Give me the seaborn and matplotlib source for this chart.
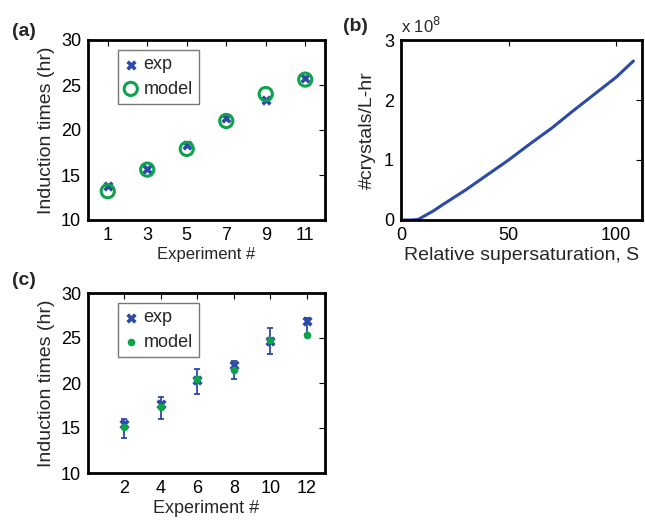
"""Induction time comparison and nucleation rate curve, three-panel figure."""

import matplotlib
matplotlib.use("Agg")
import matplotlib.pyplot as plt
import pandas as pd
import seaborn as sns

# panel (a)
exp_a_x = [1, 3, 5, 7, 9, 11]
exp_a_y = [13.8, 15.7, 18.3, 21.3, 23.3, 25.8]
model_a_y = [13.2, 15.6, 17.9, 21.0, 24.0, 25.6]

# panel (b): nucleation rate vs relative supersaturation
sup_s = [0, 5, 8, 10, 15, 20, 30, 40, 50, 60, 70, 80, 90, 100, 108]
rate_e8 = [0, 0, 0.01, 0.05, 0.15, 0.27, 0.5, 0.75, 1.0, 1.27, 1.53, 1.82, 2.1, 2.38, 2.65]

# panel (c)
exp_c_x = [2, 4, 6, 8, 10, 12]
exp_c_y = [15.4, 17.7, 20.3, 22.0, 24.7, 26.9]
exp_c_lo = [13.9, 16.0, 18.8, 20.4, 23.2, 25.4]
exp_c_hi = [16.0, 18.4, 21.6, 22.5, 26.1, 27.2]
model_c_y = [15.1, 17.3, 20.4, 21.4, 24.8, 25.3]

BLUE = "#2c4aa8"
GREEN = "#0da34a"
W, H = 645, 520


def _style(ax):
    for side in ax.spines.values():
        side.set_visible(True)
        side.set_linewidth(2.0)
        side.set_color("black")
    ax.tick_params(direction="in", length=4, width=0.8, top=True, right=True,
                   labelsize=13, pad=5, colors="black")


def _box(left, top, right, bottom):
    return [left / W, 1 - bottom / H, (right - left) / W, (bottom - top) / H]


def _legend(ax):
    leg = ax.legend(loc="upper left", bbox_to_anchor=(0.127, 0.944), fontsize=13,
                    frameon=True, fancybox=False, handletextpad=0.35,
                    borderpad=0.35, labelspacing=0.4, handlelength=0.7,
                    borderaxespad=0.0)
    leg.get_frame().set_edgecolor("#555555")
    leg.get_frame().set_linewidth(1.0)


def main():
    sns.set_style("white")
    plt.rcParams["font.family"] = ["Liberation Sans", "DejaVu Sans"]
    fig = plt.figure(figsize=(W / 100, H / 100), dpi=100)

    # (a)
    ax_a = fig.add_axes(_box(88, 40, 325, 220))
    frame_a = pd.DataFrame({"exp": exp_a_x, "y": exp_a_y, "model": model_a_y})
    sns.scatterplot(data=frame_a, x="exp", y="y", marker="X", s=55, color=BLUE,
                    linewidth=0, label="exp", ax=ax_a, zorder=3)
    sns.scatterplot(data=frame_a, x="exp", y="model", marker="o", s=90,
                    facecolor="none", edgecolor=GREEN, linewidth=2.2,
                    label="model", ax=ax_a, zorder=4)
    ax_a.set_xlim(0, 12)
    ax_a.set_ylim(10, 30)
    ax_a.set_xticks(exp_a_x)
    ax_a.set_yticks([10, 15, 20, 25, 30])
    ax_a.set_xlabel("Experiment #", fontsize=12, labelpad=2)
    ax_a.set_ylabel("Induction times (hr)", fontsize=14, labelpad=4)
    _style(ax_a)
    _legend(ax_a)

    # (b)
    ax_b = fig.add_axes(_box(401, 40, 642, 220))
    frame_b = pd.DataFrame({"S": sup_s, "rate": rate_e8})
    sns.lineplot(data=frame_b, x="S", y="rate", color=BLUE, linewidth=2.2, ax=ax_b)
    ax_b.set_xlim(0, 112)
    ax_b.set_ylim(0, 3)
    ax_b.set_xticks([0, 50, 100])
    ax_b.set_yticks([0, 1, 2, 3])
    ax_b.set_xlabel("Relative supersaturation, S", fontsize=14, labelpad=2)
    ax_b.set_ylabel("#crystals/L-hr", fontsize=14, labelpad=6)
    ax_b.text(0.0, 1.02, r"x 10$^8$", transform=ax_b.transAxes, fontsize=12,
              ha="left", va="bottom")
    _style(ax_b)

    # (c)
    ax_c = fig.add_axes(_box(88, 293, 325, 473))
    frame_c = pd.DataFrame({"exp": exp_c_x, "y": exp_c_y, "lo": exp_c_lo,
                            "hi": exp_c_hi, "model": model_c_y})
    ax_c.errorbar(frame_c["exp"], frame_c["y"],
                  yerr=[frame_c["y"] - frame_c["lo"], frame_c["hi"] - frame_c["y"]],
                  fmt="none", ecolor=BLUE, elinewidth=1.3, capsize=2.5, capthick=1.3,
                  zorder=2)
    sns.scatterplot(data=frame_c, x="exp", y="y", marker="X", s=55, color=BLUE,
                    linewidth=0, label="exp", ax=ax_c, zorder=3)
    sns.scatterplot(data=frame_c, x="exp", y="model", marker="o", s=30,
                    color=GREEN, linewidth=0, label="model", ax=ax_c, zorder=4)
    ax_c.set_xlim(0, 13)
    ax_c.set_ylim(10, 30)
    ax_c.set_xticks(exp_c_x)
    ax_c.set_yticks([10, 15, 20, 25, 30])
    ax_c.set_xlabel("Experiment #", fontsize=13, labelpad=2)
    ax_c.set_ylabel("Induction times (hr)", fontsize=14, labelpad=4)
    _style(ax_c)
    _legend(ax_c)

    # panel letters
    fig.text(12 / W, 1 - 36 / H, "(a)", fontsize=14, fontweight="bold", va="baseline")
    fig.text(343 / W, 1 - 31 / H, "(b)", fontsize=14, fontweight="bold", va="baseline")
    fig.text(12 / W, 1 - 285 / H, "(c)", fontsize=14, fontweight="bold", va="baseline")

    fig.savefig("out.png", dpi=100)
    plt.close(fig)


if __name__ == "__main__":
    main()
